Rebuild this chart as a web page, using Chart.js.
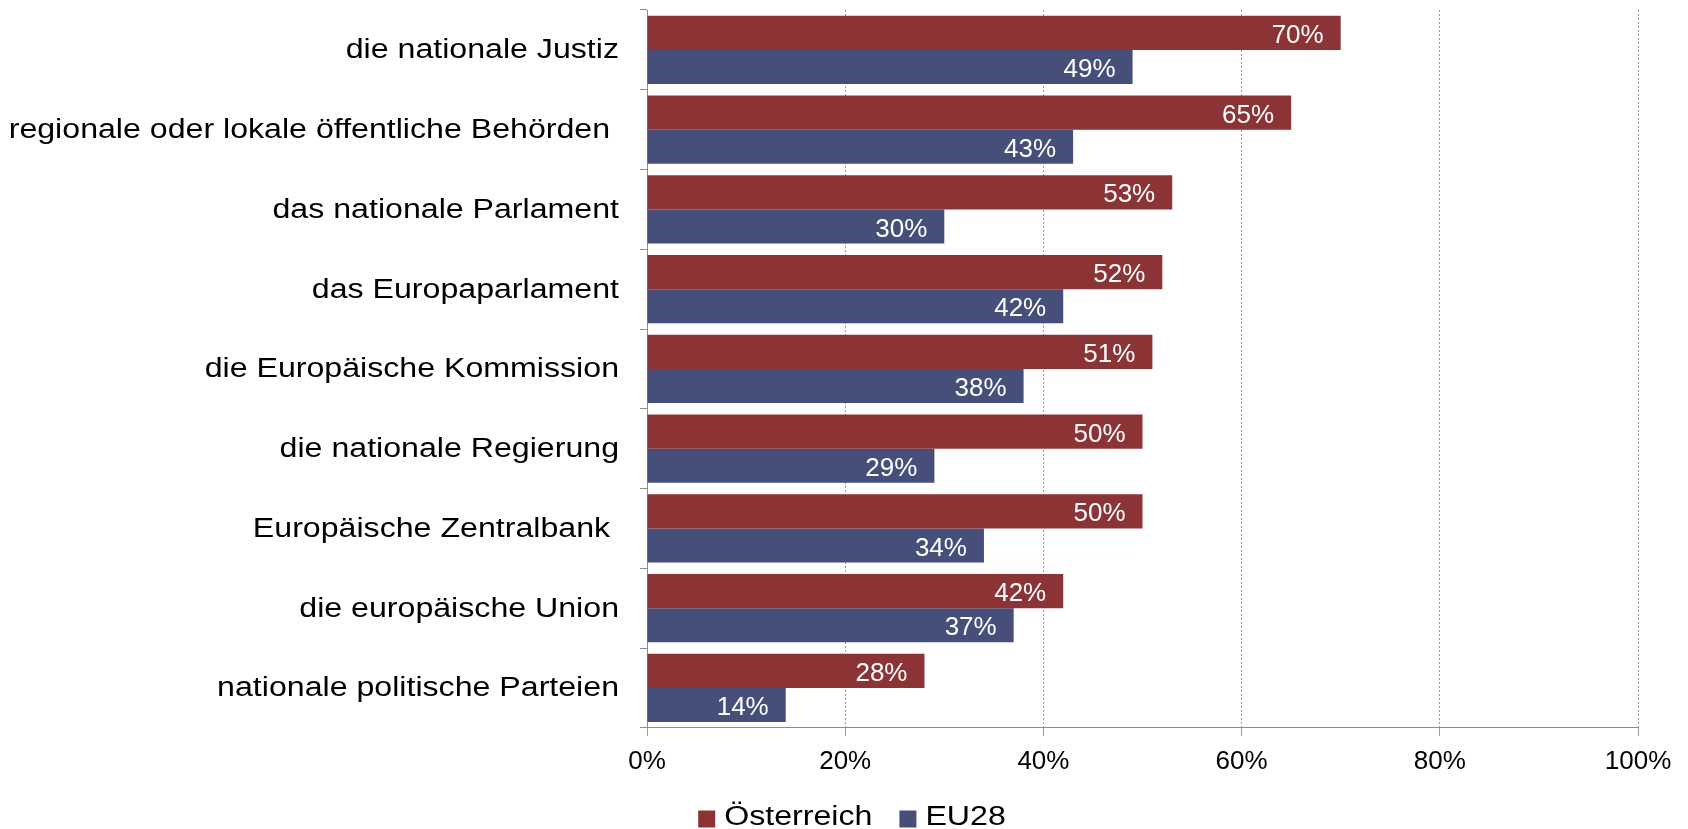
<!DOCTYPE html>
<html lang="de">
<head>
  <meta charset="UTF-8">
  <title>Vertrauen in Institutionen</title>
  <script src="https://cdn.jsdelivr.net/npm/chart.js"></script>
  <style>
    html, body {
      margin: 0;
      padding: 0;
      background: #ffffff;
      overflow: hidden;
    }
  </style>
</head>
<body>
  <canvas id="chart" width="1688" height="829"></canvas>

  <script>
    const categories = [
      'die nationale Justiz',
      'regionale oder lokale öffentliche Behörden ',
      'das nationale Parlament',
      'das Europaparlament',
      'die Europäische Kommission',
      'die nationale Regierung',
      'Europäische Zentralbank ',
      'die europäische Union',
      'nationale politische Parteien'
    ];
    const oesterreich = [70, 65, 53, 52, 51, 50, 50, 42, 28];
    const eu28 = [49, 43, 30, 42, 38, 29, 34, 37, 14];
    const xTicks = [0, 20, 40, 60, 80, 100];

    const FONT = '"Liberation Sans", Arial, sans-serif';
    const STRETCH = 1.19; // the original's labels are drawn a bit wide

    // white percentage labels at the inner end of each bar
    const valueLabels = {
      id: 'valueLabels',
      afterDatasetsDraw(chart) {
        const ctx = chart.ctx;
        ctx.save();
        ctx.font = '26px ' + FONT;
        ctx.fillStyle = '#ffffff';
        ctx.textAlign = 'right';
        ctx.textBaseline = 'middle';
        chart.data.datasets.forEach((ds, i) => {
          chart.getDatasetMeta(i).data.forEach((bar, j) => {
            ctx.fillText(ds.data[j] + '%', bar.x - 17, bar.y + 3);
          });
        });
        ctx.restore();
      }
    };

    // category labels left of the y axis
    const categoryLabels = {
      id: 'categoryLabels',
      afterDraw(chart) {
        const y = chart.scales.y;
        const ctx = chart.ctx;
        ctx.save();
        ctx.font = '27px ' + FONT;
        ctx.fillStyle = '#000000';
        ctx.textAlign = 'right';
        ctx.textBaseline = 'middle';
        categories.forEach((label, i) => {
          ctx.save();
          ctx.translate(y.right - 28, y.getPixelForValue(i) + 1);
          ctx.scale(STRETCH, 1);
          ctx.fillText(label, 0, 0);
          ctx.restore();
        });
        ctx.restore();
      }
    };

    // legend under the x axis
    const bottomLegend = {
      id: 'bottomLegend',
      afterDraw(chart) {
        const ctx = chart.ctx;
        const box = 17, gap = 9, between = 27;
        ctx.save();
        ctx.font = '27px ' + FONT;
        ctx.textBaseline = 'middle';
        ctx.textAlign = 'left';
        const items = chart.data.datasets.map(ds => ({
          label: ds.label,
          color: ds.backgroundColor,
          w: ctx.measureText(ds.label).width * STRETCH
        }));
        let total = 0;
        items.forEach((it, i) => { total += box + gap + it.w + (i ? between : 0); });
        let x = chart.width / 2 + 8 - total / 2;
        const cy = chart.scales.x.bottom + 31;
        items.forEach(it => {
          ctx.fillStyle = it.color;
          ctx.fillRect(x, cy - box / 2 + 1, box, box);
          x += box + gap;
          ctx.save();
          ctx.translate(x, cy);
          ctx.scale(STRETCH, 1);
          ctx.fillStyle = '#000000';
          ctx.fillText(it.label, 0, 0);
          ctx.restore();
          x += it.w + between;
        });
        ctx.restore();
      }
    };

    new Chart(document.getElementById('chart'), {
      type: 'bar',
      data: {
        labels: categories,
        datasets: [
          {
            label: 'Österreich',
            data: oesterreich,
            backgroundColor: '#8b3335',
            barPercentage: 1,
            categoryPercentage: 0.857
          },
          {
            label: 'EU28',
            data: eu28,
            backgroundColor: '#464f7a',
            barPercentage: 1,
            categoryPercentage: 0.857
          }
        ]
      },
      options: {
        indexAxis: 'y',
        responsive: false,
        animation: false,
        layout: {
          padding: { top: 10, right: 50, bottom: 42, left: 0 }
        },
        scales: {
          x: {
            min: 0,
            max: 100,
            afterBuildTicks(scale) {
              scale.ticks = xTicks.map(v => ({ value: v }));
            },
            ticks: {
              callback: v => v + '%',
              color: '#000000',
              font: { size: 26, family: FONT },
              padding: 10,
              maxRotation: 0
            },
            grid: {
              color: '#9a9a9a',
              tickLength: 8
            },
            border: {
              color: '#8c8c8c',
              dash: [2, 2]
            }
          },
          y: {
            ticks: { display: false },
            grid: {
              drawOnChartArea: false,
              offset: true,
              tickLength: 7,
              color: '#8c8c8c'
            },
            border: { color: '#8c8c8c' },
            afterFit(scale) {
              scale.width = 647;
            }
          }
        },
        plugins: {
          legend: { display: false },
          tooltip: { enabled: false }
        }
      },
      plugins: [valueLabels, categoryLabels, bottomLegend]
    });
  </script>
</body>
</html>
